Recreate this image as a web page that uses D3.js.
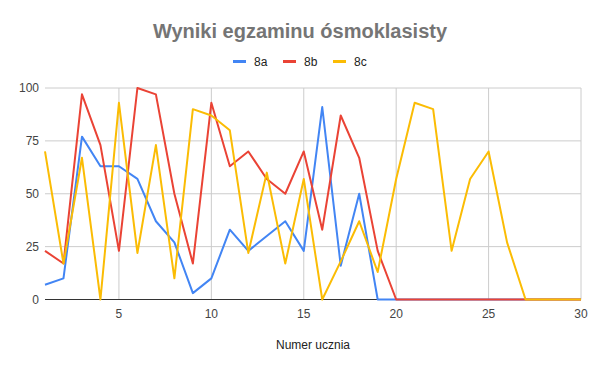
<!DOCTYPE html>
<html>
<head>
<meta charset="utf-8">
<script src="https://cdn.jsdelivr.net/npm/d3@7"></script>
<style>
  body { margin: 0; background: #fff; }
  svg { display: block; font-family: "Liberation Sans", Arial, sans-serif; }
</style>
</head>
<body>
<svg width="600" height="371"></svg>
<script>
// data
var students = d3.range(1, 31);
var seriesNames = ["8a", "8b", "8c"];
var colors = ["#4285F4", "#EA4335", "#FBBC04"];
var values8a = [7, 10, 77, 63, 63, 57, 37, 27, 3, 10, 33, 23, 30, 37, 23, 91, 16, 50, 0, 0, 0, 0, 0, 0, 0, 0, 0, 0, 0, 0];
var values8b = [23, 17, 97, 73, 23, 100, 97, 50, 17, 93, 63, 70, 57, 50, 70, 33, 87, 67, 23, 0, 0, 0, 0, 0, 0, 0, 0, 0, 0, 0];
var values8c = [70, 17, 67, 0, 93, 22, 73, 10, 90, 87, 80, 22, 60, 17, 57, 0, 18, 37, 13, 57, 93, 90, 23, 57, 70, 27, 0, 0, 0, 0];
var xTicks = [5, 10, 15, 20, 25, 30];
var yTicks = [0, 25, 50, 75, 100];

var svg = d3.select("svg"),
    plot = { left: 45, right: 581, top: 88, bottom: 299.5 };

var x = d3.scaleLinear().domain([1, 30]).range([plot.left, plot.right]);
var y = d3.scaleLinear().domain([0, 100]).range([plot.bottom, plot.top]);

// title
svg.append("text")
    .attr("x", 300).attr("y", 38)
    .attr("text-anchor", "middle")
    .style("font-size", "20px")
    .style("font-weight", "bold")
    .style("fill", "#757575")
    .text("Wyniki egzaminu ósmoklasisty");

// legend
var legendX = [233, 283, 333];
seriesNames.forEach(function(name, i) {
    svg.append("rect")
        .attr("x", legendX[i]).attr("y", 60)
        .attr("width", 13).attr("height", 3)
        .style("fill", colors[i]);
    svg.append("text")
        .attr("x", legendX[i] + 21).attr("y", 66)
        .style("font-size", "12px")
        .style("fill", "#222")
        .text(name);
});

// grid
var g = svg.append("g");
g.selectAll("line.h")
    .data(yTicks.filter(function(d) { return d > 0; }))
    .enter().append("line")
    .attr("x1", plot.left).attr("x2", plot.right)
    .attr("y1", function(d) { return y(d); })
    .attr("y2", function(d) { return y(d); })
    .style("stroke", "#cccccc").style("stroke-width", 1);
g.selectAll("line.v")
    .data(xTicks)
    .enter().append("line")
    .attr("x1", function(d) { return x(d); })
    .attr("x2", function(d) { return x(d); })
    .attr("y1", plot.top).attr("y2", plot.bottom)
    .style("stroke", "#cccccc").style("stroke-width", 1);

// axis labels
g.selectAll("text.y")
    .data(yTicks)
    .enter().append("text")
    .attr("x", plot.left - 6)
    .attr("y", function(d) { return y(d) + 4; })
    .attr("text-anchor", "end")
    .style("font-size", "12px")
    .style("fill", "#444")
    .text(function(d) { return d; });
g.selectAll("text.x")
    .data(xTicks)
    .enter().append("text")
    .attr("x", function(d) { return x(d); })
    .attr("y", plot.bottom + 18)
    .attr("text-anchor", "middle")
    .style("font-size", "12px")
    .style("fill", "#444")
    .text(function(d) { return d; });

svg.append("text")
    .attr("x", (plot.left + plot.right) / 2).attr("y", 349)
    .attr("text-anchor", "middle")
    .style("font-size", "12px")
    .style("fill", "#222")
    .text("Numer ucznia");

// baseline
svg.append("line")
    .attr("x1", plot.left).attr("x2", plot.right)
    .attr("y1", y(0)).attr("y2", y(0))
    .style("stroke", "#333").style("stroke-width", 1);

// lines
var line = d3.line()
    .x(function(d, i) { return x(students[i]); })
    .y(function(d) { return y(d); });

[values8a, values8b, values8c].forEach(function(vals, i) {
    svg.append("path")
        .datum(vals)
        .attr("d", line)
        .style("fill", "none")
        .style("stroke", colors[i])
        .style("stroke-width", 2)
        .style("stroke-linejoin", "round");
});
</script>
</body>
</html>
